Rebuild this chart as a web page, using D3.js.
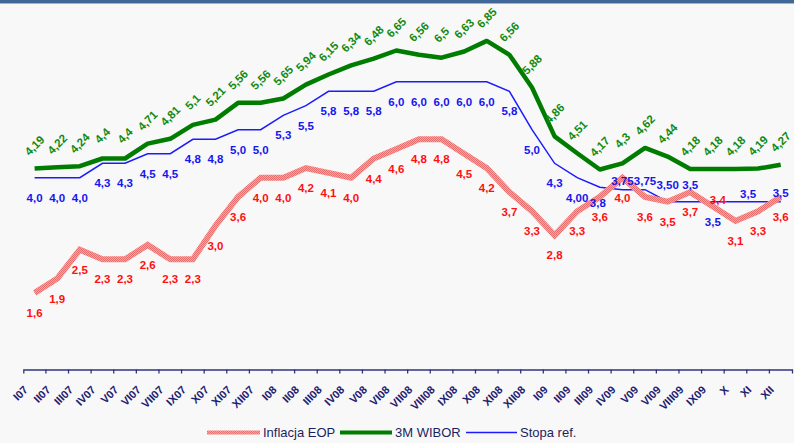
<!DOCTYPE html>
<html>
<head>
<meta charset="utf-8">
<script src="https://cdn.jsdelivr.net/npm/d3@7"></script>
<style>
  html, body { margin: 0; padding: 0; background: #f8f8f8; }
  svg { display: block; font-family: "Liberation Sans", Arial, sans-serif; }
</style>
</head>
<body>
<svg id="chart" width="794" height="443"></svg>
<script>
// Months shown on the axis
const months = ["I07","II07","III07","IV07","V07","VI07","VII07","IX07","X07","XI07","XII07",
  "I08","II08","III08","IV08","V08","VI08","VII08","VIII08","IX08","X08","XI08","XII08",
  "I09","II09","III09","IV09","V09","VI09","VIII09","IX09","X","XI","XII"];

// CPI inflation, end of period (%)
const inflation = [1.6,1.9,2.5,2.3,2.3,2.6,2.3,2.3,3.0,3.6,4.0,
  4.0,4.2,4.1,4.0,4.4,4.6,4.8,4.8,4.5,4.2,3.7,3.3,
  2.8,3.3,3.6,4.0,3.6,3.5,3.7,3.4,3.1,3.3,3.6];

// 3M WIBOR (%)
const wibor = [4.19,4.22,4.24,4.4,4.4,4.71,4.81,5.1,5.21,5.56,5.56,
  5.65,5.94,6.15,6.34,6.48,6.65,6.56,6.5,6.63,6.85,6.56,5.88,
  4.86,4.51,4.17,4.3,4.62,4.44,4.18,4.18,4.18,4.19,4.27];

// NBP reference rate (%)
const refRate = [4.0,4.0,4.0,4.3,4.3,4.5,4.5,4.8,4.8,5.0,5.0,
  5.3,5.5,5.8,5.8,5.8,6.0,6.0,6.0,6.0,6.0,5.8,5.0,
  4.3,4.0,3.8,3.75,3.75,3.5,3.5,3.5,3.5,3.5,3.5];
const refRateText = ["4,0","4,0","4,0","4,3","4,3","4,5","4,5","4,8","4,8","5,0","5,0",
  "5,3","5,5","5,8","5,8","5,8","6,0","6,0","6,0","6,0","6,0","5,8","5,0",
  "4,3","4,00","3,8","3,75","3,75","3,50","3,5","3,5","3,5","3,5","3,5"];

// Label placement codes (b = below, u = just below, a/A = above, L/R = shifted, n = hidden)
const refRatePlace = "bbbbbbbbbbbbbbbbbbbbbbbbbuaaAAbnLa".split("");
const inflationPlace = "bbbbbbbbbbbbbbbbbbbbbbbbbbbbbbRbbb".split("");
const placeOffsets = { b: [0, 20], u: [-2, 16], a: [0, -9], A: [0, -17], L: [-10, -8], R: [5, -7] };

const svg = d3.select("#chart");
const W = 794, H = 443;
const comma = v => String(v).replace(".", ",");
const fmt1 = v => d3.format(".1f")(v).replace(".", ",");

svg.append("rect").attr("width", W).attr("height", H).attr("fill", "#f8f8f8");
// header strip
svg.append("rect").attr("x", 0).attr("y", 0).attr("width", W).attr("height", 3).attr("fill", "#3f6797");
svg.append("rect").attr("x", 0).attr("y", 3).attr("width", W).attr("height", 1).attr("fill", "#9fb5cf");

// texture for the inflation line
const defs = svg.append("defs");
const pat = defs.append("pattern").attr("id", "pinkTex").attr("patternUnits", "userSpaceOnUse")
  .attr("width", 2).attr("height", 2);
pat.append("rect").attr("width", 2).attr("height", 2).attr("fill", "#f5a5a5");
pat.append("rect").attr("x", 0).attr("y", 0).attr("width", 1).attr("height", 1).attr("fill", "#e96f6f");
pat.append("rect").attr("x", 1).attr("y", 1).attr("width", 1).attr("height", 1).attr("fill", "#e96f6f");

const x = d3.scaleBand().domain(months).range([23.3, 792]).padding(0);
const y = d3.scaleLinear().domain([0, 7]).range([369.7, 33.7]);
const xc = i => x(months[i]) + x.bandwidth() / 2;

// x axis
const axisY = 369.5;
const axisG = svg.append("g").attr("transform", `translate(0,${axisY})`)
  .call(d3.axisBottom(x).tickSizeInner(0).tickSizeOuter(4).tickPadding(0));
axisG.select(".domain").attr("stroke", "#2e3580").attr("stroke-width", 1.3);
axisG.selectAll(".tick line").remove();
axisG.selectAll(".tick text")
  .attr("fill", "#1e2070")
  .attr("font-size", 11)
  .attr("font-weight", "bold")
  .attr("font-family", "'Liberation Sans', Arial, sans-serif")
  .attr("text-anchor", "end")
  .attr("dy", 0)
  .attr("y", 0)
  .attr("transform", "translate(-6,21) rotate(-45)");
// ticks at category boundaries
axisG.selectAll(".bound").data(months.slice(1)).enter().append("line")
  .attr("class", "bound")
  .attr("x1", d => x(d)).attr("x2", d => x(d))
  .attr("y1", 0).attr("y2", 4)
  .attr("stroke", "#2e3580").attr("stroke-width", 1.3);

const line = d3.line().x((d, i) => xc(i)).y(d => y(d));

// series lines
svg.append("path").datum(refRate).attr("d", line)
  .attr("fill", "none").attr("stroke", "#1b1bff").attr("stroke-width", 1.5);
svg.append("path").datum(wibor).attr("d", line)
  .attr("fill", "none").attr("stroke", "#007c00").attr("stroke-width", 4.5)
  .attr("stroke-linejoin", "round");
svg.append("path").datum(inflation).attr("d", line)
  .attr("fill", "none").attr("stroke", "url(#pinkTex)").attr("stroke-width", 6)
  .attr("stroke-linejoin", "miter");

const labelFont = "'Liberation Sans', Arial, sans-serif";
const labelSize = 11.5;

// WIBOR labels, rotated
svg.append("g").selectAll("text").data(wibor.map((v, i) => ({ v, i }))).enter().append("text")
  .attr("transform", d => `translate(${xc(d.i)},${y(d.v) - 23}) rotate(-45)`)
  .attr("text-anchor", "middle").attr("dominant-baseline", "central")
  .attr("font-family", labelFont).attr("font-size", labelSize).attr("font-weight", "bold")
  .attr("fill", "#118a11")
  .text(d => comma(d.v));

// reference rate labels
const refItems = refRate.map((v, i) => ({ v, i, t: refRateText[i], p: refRatePlace[i] }))
  .filter(d => d.p !== "n");
svg.append("g").selectAll("text").data(refItems).enter().append("text")
  .attr("x", d => xc(d.i) + placeOffsets[d.p][0])
  .attr("y", d => y(d.v) + placeOffsets[d.p][1])
  .attr("text-anchor", "middle").attr("dominant-baseline", "central")
  .attr("font-family", labelFont).attr("font-size", labelSize).attr("font-weight", "bold")
  .attr("fill", "#1616f0")
  .text(d => d.t);

// inflation labels
const infItems = inflation.map((v, i) => ({ v, i, p: inflationPlace[i] }));
svg.append("g").selectAll("text").data(infItems).enter().append("text")
  .attr("x", d => xc(d.i) + placeOffsets[d.p][0])
  .attr("y", d => y(d.v) + placeOffsets[d.p][1])
  .attr("text-anchor", "middle").attr("dominant-baseline", "central")
  .attr("font-family", labelFont).attr("font-size", labelSize).attr("font-weight", "bold")
  .attr("fill", "#ff1010")
  .text(d => fmt1(d.v));

// legend
const legendY = 432.5;
const legendItems = [
  { name: "Inflacja EOP", x0: 207, x1: 260, stroke: "url(#pinkTex)", w: 4 },
  { name: "3M WIBOR", x0: 340, x1: 392, stroke: "#007c00", w: 4 },
  { name: "Stopa ref.", x0: 466, x1: 517, stroke: "#1b1bff", w: 1.5 }
];
const lg = svg.append("g");
legendItems.forEach(it => {
  lg.append("line").attr("x1", it.x0).attr("x2", it.x1).attr("y1", legendY).attr("y2", legendY)
    .attr("stroke", it.stroke).attr("stroke-width", it.w);
  lg.append("text").attr("x", it.x1 + 3).attr("y", legendY).attr("dominant-baseline", "central")
    .attr("font-family", labelFont).attr("font-size", 13).attr("fill", "#1b1f5e")
    .text(it.name);
});
</script>
</body>
</html>
